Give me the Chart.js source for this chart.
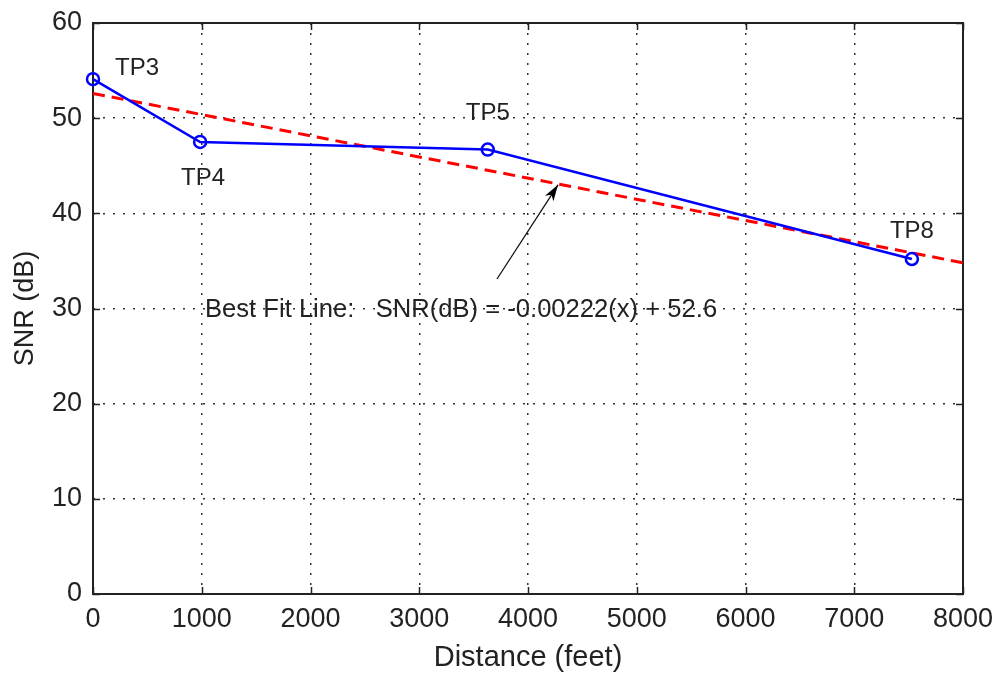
<!DOCTYPE html>
<html>
<head>
<meta charset="utf-8">
<script src="https://cdn.jsdelivr.net/npm/chart.js@4/dist/chart.umd.min.js"></script>
<style>
  html, body { margin: 0; padding: 0; background: #fff; }
  #wrap { width: 1000px; height: 675px; }
</style>
</head>
<body>
<div id="wrap"><canvas id="snrChart"></canvas></div>
<script>
// DATA
const distanceFeet = [0, 985, 3630, 7530];
const snrDb = [54.1, 47.5, 46.7, 35.2];
const pointLabels = ["TP3", "TP4", "TP5", "TP8"];
const fitDistance = [0, 8000];
const fitSnr = [52.6, 34.8];
const xTickValues = [0, 1000, 2000, 3000, 4000, 5000, 6000, 7000, 8000];
const yTickValues = [0, 10, 20, 30, 40, 50, 60];
const fitText = "Best Fit Line:   SNR(dB) = -0.00222(x) + 52.6";
const fitTextAt = [1030, 29.9];
const arrowFrom = [3715, 33.1];
const arrowTo = [4276, 43.0];

const FONT = "'Liberation Sans', Arial, sans-serif";

// label offsets in pixels from each marker
const labelOffsets = [[44, -11], [3, 36], [0, -36], [0, -28]];

// MATLAB-like box, inward ticks, labels and annotation
const matlabDecor = {
    id: "matlabDecor",
    beforeDatasetsDraw(chart) {
        const { ctx, chartArea: a, scales } = chart;
        ctx.save();
        ctx.strokeStyle = "#222";
        ctx.lineWidth = 1.5;
        ctx.beginPath();
        xTickValues.forEach(v => {
            const px = Math.round(scales.x.getPixelForValue(v)) + 0.5;
            ctx.moveTo(px, a.bottom); ctx.lineTo(px, a.bottom - 7);
            ctx.moveTo(px, a.top); ctx.lineTo(px, a.top + 7);
        });
        yTickValues.forEach(v => {
            const py = Math.round(scales.y.getPixelForValue(v)) + 0.5;
            ctx.moveTo(a.left, py); ctx.lineTo(a.left + 7, py);
            ctx.moveTo(a.right, py); ctx.lineTo(a.right - 7, py);
        });
        ctx.stroke();
        ctx.lineWidth = 2;
        ctx.strokeRect(a.left, a.top, a.right - a.left, a.bottom - a.top);
        ctx.restore();
    },
    afterDatasetsDraw(chart) {
        const { ctx, scales } = chart;
        const x = scales.x, y = scales.y;
        ctx.save();
        ctx.fillStyle = "#222";
        ctx.font = "24px " + FONT;
        ctx.textAlign = "center";
        ctx.textBaseline = "middle";
        pointLabels.forEach((lab, i) => {
            const px = x.getPixelForValue(distanceFeet[i]) + labelOffsets[i][0];
            const py = y.getPixelForValue(snrDb[i]) + labelOffsets[i][1];
            ctx.fillText(lab, px, py);
        });

        ctx.font = "25.6px " + FONT;
        ctx.textAlign = "left";
        ctx.fillText(fitText, x.getPixelForValue(fitTextAt[0]), y.getPixelForValue(fitTextAt[1]));

        // arrow
        const x0 = x.getPixelForValue(arrowFrom[0]), y0 = y.getPixelForValue(arrowFrom[1]);
        const x1 = x.getPixelForValue(arrowTo[0]), y1 = y.getPixelForValue(arrowTo[1]);
        const ang = Math.atan2(y1 - y0, x1 - x0);
        ctx.strokeStyle = "#111";
        ctx.lineWidth = 1.3;
        ctx.beginPath();
        ctx.moveTo(x0, y0); ctx.lineTo(x1, y1);
        ctx.stroke();
        ctx.fillStyle = "#000";
        ctx.beginPath();
        ctx.moveTo(x1, y1);
        ctx.lineTo(x1 - 17 * Math.cos(ang - 0.3), y1 - 17 * Math.sin(ang - 0.3));
        ctx.lineTo(x1 - 12 * Math.cos(ang), y1 - 12 * Math.sin(ang));
        ctx.lineTo(x1 - 17 * Math.cos(ang + 0.3), y1 - 17 * Math.sin(ang + 0.3));
        ctx.closePath();
        ctx.fill();
        ctx.restore();
    }
};

const gridStyle = {
    color: "#333",
    lineWidth: 1.5,
    drawTicks: false
};

const ctx = document.getElementById("snrChart").getContext("2d");
new Chart(ctx, {
    type: "scatter",
    data: {
        datasets: [{
            label: "Best fit",
            data: fitDistance.map((d, i) => ({ x: d, y: fitSnr[i] })),
            showLine: true,
            borderColor: "#ff0000",
            borderWidth: 3,
            borderDash: [12, 7],
            pointRadius: 0,
            clip: false,
            order: 2
        }, {
            label: "SNR",
            data: distanceFeet.map((d, i) => ({ x: d, y: snrDb[i] })),
            showLine: true,
            borderColor: "#0000ff",
            borderWidth: 2.5,
            pointRadius: 6,
            pointBorderWidth: 2.5,
            pointBorderColor: "#0000ff",
            pointBackgroundColor: "rgba(0,0,0,0)",
            clip: false,
            order: 1
        }]
    },
    options: {
        responsive: true,
        maintainAspectRatio: false,
        animation: false,
        layout: { autoPadding: false, padding: { top: 23, right: 37, left: 0, bottom: 0 } },
        plugins: {
            legend: { display: false },
            tooltip: { enabled: false }
        },
        scales: {
            x: {
                type: "linear",
                min: 0,
                max: 8000,
                afterBuildTicks(s) { s.ticks = xTickValues.map(v => ({ value: v })); },
                afterFit(s) { s.height = 81; s.paddingLeft = 0; s.paddingRight = 0; },
                grid: gridStyle,
                border: { display: false, dash: [2, 8] },
                ticks: {
                    color: "#222",
                    padding: 9,
                    maxRotation: 0,
                    autoSkip: false,
                    callback: v => String(v),
                    font: { family: FONT, size: 27 }
                },
                title: {
                    display: true,
                    text: "Distance (feet)",
                    color: "#222",
                    padding: { top: 0, bottom: 0 },
                    font: { family: FONT, size: 29 }
                }
            },
            y: {
                type: "linear",
                min: 0,
                max: 60,
                afterBuildTicks(s) { s.ticks = yTickValues.map(v => ({ value: v })); },
                afterFit(s) { s.width = 93; s.paddingTop = 0; s.paddingBottom = 0; },
                grid: gridStyle,
                border: { display: false, dash: [2, 8] },
                ticks: {
                    color: "#222",
                    padding: 11,
                    autoSkip: false,
                    callback: v => String(v),
                    font: { family: FONT, size: 27 }
                },
                title: {
                    display: true,
                    text: "SNR (dB)",
                    color: "#222",
                    padding: { top: 9, bottom: 2 },
                    font: { family: FONT, size: 27 }
                }
            }
        }
    },
    plugins: [matlabDecor]
});
</script>
</body>
</html>
